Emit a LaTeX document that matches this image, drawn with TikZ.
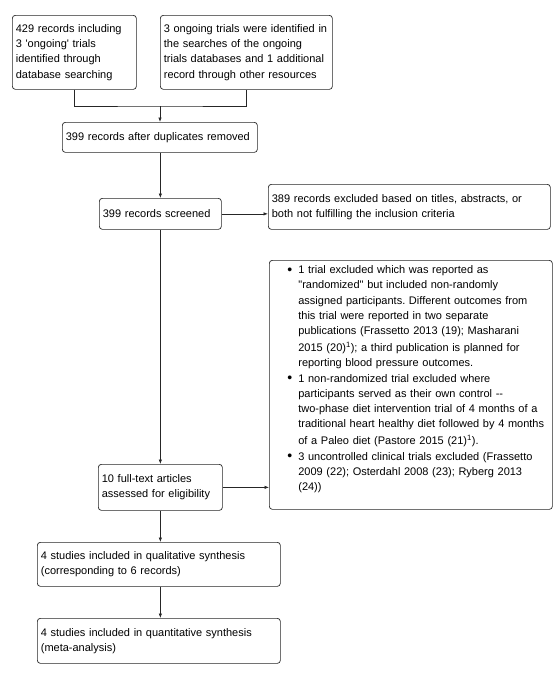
\documentclass[tikz,border=0pt]{standalone}
\usepackage{fontspec}
\setmainfont{Liberation Sans}[Ligatures={TeXOff,NoCommon}]
\usetikzlibrary{arrows.meta}
\newcommand\fbul{\hspace*{18pt}\makebox[11pt][l]{\raisebox{-0.7pt}{\fontsize{14}{14}\selectfont\textbullet}}}
\newcommand\fcon{\hspace*{29pt}}
\frenchspacing
\begin{document}
\begin{tikzpicture}[x=1pt,y=-1pt,
  box/.style={draw=black!85, line width=0.7pt, rounded corners=3pt, anchor=north west,
    align=left, inner xsep=3.5pt, inner ysep=0pt, font=\fontsize{11}{15.3}\selectfont\frenchspacing},
  link/.style={draw=black!85, line width=0.7pt},
  arr/.style={link, -{Latex[length=4.5pt,width=3.5pt]}}]
\useasboundingbox (0,0) rectangle (558,673);
\node[box, text width=117pt, minimum height=74pt] (a) at (12,15)
  {429 records including\\3 \textquotesingle ongoing\textquotesingle\ trials\\identified through\\database searching};
\node[box, text width=165pt, minimum height=74pt] (b) at (160,15)
  {3 ongoing trials were identified in\\the searches of the ongoing\\trials databases and 1 additional\\record through other resources};
\node[box, text width=188pt, minimum height=30pt] (c) at (62,122)
  {399 records after duplicates removed};
\node[box, text width=115pt, minimum height=31pt] (d) at (99,198)
  {399 records screened};
\node[box, text width=275pt, minimum height=45pt] (e) at (268,184)
  {389 records excluded based on titles, abstracts, or\\both not fulfilling the inclusion criteria};
\node[box, text width=283pt, inner xsep=0pt, minimum height=249pt] (f) at (269,260)
  {\fbul 1 trial excluded which was reported as\\
  \fcon "randomized" but included non-randomly\\
  \fcon assigned participants. Different outcomes from\\
  \fcon this trial were reported in two separate\\
  \fcon publications (Frassetto 2013 (19); Masharani\\
  \fcon \rule{0pt}{13.5pt}2015 (20)\textsuperscript{1}); a third publication is planned for\\
  \fcon reporting blood pressure outcomes.\\
  \fbul 1 non-randomized trial excluded where\\
  \fcon participants served as their own control --\\
  \fcon two-phase diet intervention trial of 4 months of a\\
  \fcon traditional heart healthy diet followed by 4 months\\
  \fcon \rule{0pt}{13.5pt}of a Paleo diet (Pastore 2015 (21)\textsuperscript{1}).\\
  \fbul 3 uncontrolled clinical trials excluded (Frassetto\\
  \fcon 2009 (22); Osterdahl 2008 (23); Ryberg 2013\\
  \fcon (24))\rule[-13.5pt]{0pt}{1pt}};
\node[box, text width=117pt, minimum height=46pt] (g) at (98,464)
  {10 full-text articles\\assessed for eligibility};
\node[box, text width=236pt, minimum height=44pt] (h) at (37,542)
  {4 studies included in qualitative synthesis\\(corresponding to 6 records)};
\node[box, text width=236pt, minimum height=45pt] (i) at (37,618)
  {4 studies included in quantitative synthesis\\(meta-analysis)};
\coordinate (j) at (160,106);
\draw[link] (a.south) |- (j) -| (b.south);
\draw[arr] (j) -- (j |- c.north);
\draw[arr] (c.south -| d.north) -- (d.north);
\draw[arr] (d.east) -- (d.east -| e.west);
\draw[arr] (d.south) -- (g.north);
\draw[arr] (g.east) -- (g.east -| f.west);
\draw[arr] (g.south) -- (g.south |- h.north);
\draw[arr] (h.south -| g.south) -- (g.south |- i.north);
\end{tikzpicture}
\end{document}
